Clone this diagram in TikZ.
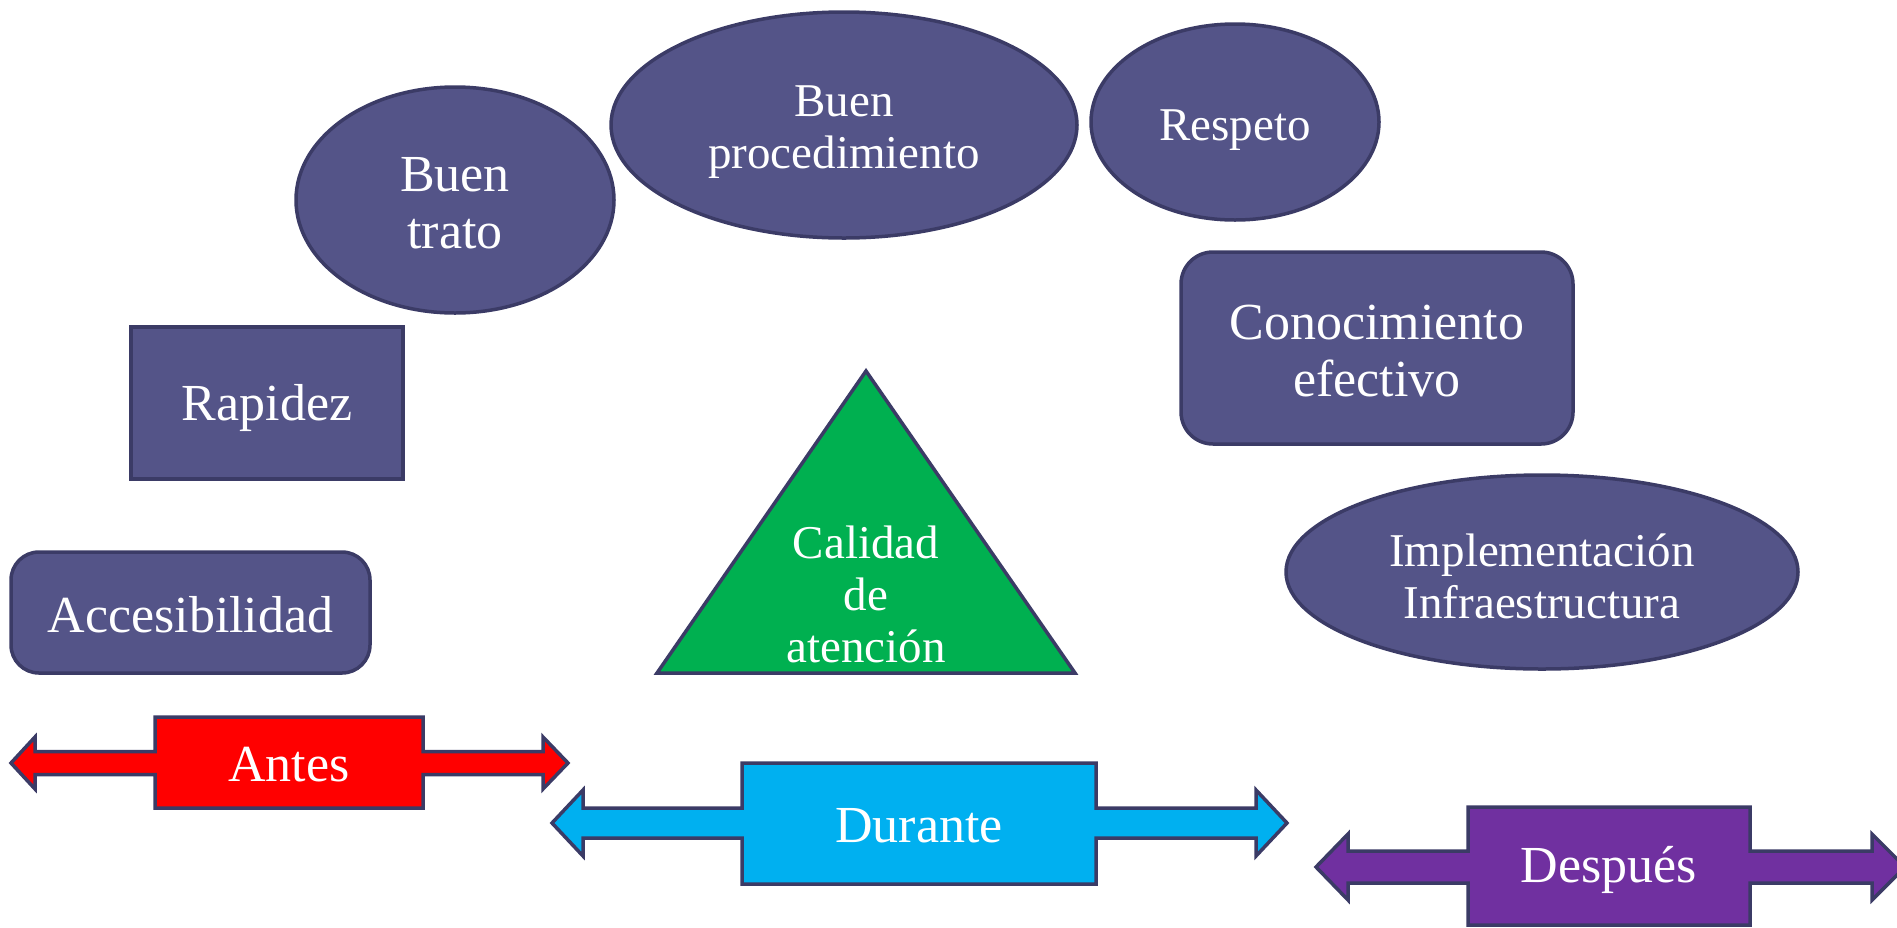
\documentclass[tikz,border=0pt]{standalone}
\usepackage{fontspec}
\setmainfont{Liberation Serif}
\usetikzlibrary{shapes.geometric}
\definecolor{boxfill}{HTML}{545488}
\definecolor{boxline}{HTML}{3B3B66}
\definecolor{trigreen}{HTML}{00B050}
\definecolor{antesred}{HTML}{FF0000}
\definecolor{durcyan}{HTML}{00B0F0}
\definecolor{despurple}{HTML}{7030A0}
\begin{document}
\begin{tikzpicture}[x=1pt,y=-1pt,
  bigtxt/.style={font=\fontsize{52}{57}\selectfont},
  smalltxt/.style={font=\fontsize{47}{52}\selectfont},
  item/.style={draw=boxline, fill=boxfill, line width=3.5pt, inner sep=0pt},
  bubble/.style={item, ellipse},
  plainbox/.style={item, rectangle},
  roundbox/.style={item, rectangle, rounded corners=28pt},
  label/.style={text=white, align=center, inner sep=0pt},
  arrowshape/.style={draw=boxline, line width=3.5pt, line join=miter},
  arrowtxt/.style={bigtxt, text=white, inner sep=0pt}
]
\useasboundingbox (0,0) rectangle (1897,927);
\clip (0,0) rectangle (1897,927);

% top ellipses
\node[bubble, minimum width=318pt, minimum height=226pt] (trato) at (455,200) {};
\node[label, bigtxt] (tratotext) at ([yshift=-3pt]trato.center) {Buen\\trato};
\node[bubble, minimum width=466pt, minimum height=226pt] (proc) at (844,125) {};
\node[label, smalltxt] (proctext) at ([yshift=-7pt]proc.center) {Buen\\procedimiento};
\node[bubble, minimum width=288pt, minimum height=196pt] (respeto) at (1235,122) {};
\node[label, smalltxt] (respetotext) at ([yshift=-8pt]respeto.center) {Respeto};

% boxes
\node[plainbox, minimum width=272pt, minimum height=152pt] (rapidez) at (267,403) {};
\node[label, bigtxt] (rapideztext) at ([yshift=-5pt]rapidez.center) {Rapidez};
\node[roundbox, minimum width=359pt, minimum height=121pt] (acces) at (190.5,612.5) {};
\node[label, bigtxt] (accestext) at ([yshift=-2pt]acces.center) {Accesibilidad};
\node[roundbox, minimum width=392pt, minimum height=192pt, rounded corners=32pt] (conoc) at (1377,348) {};
\node[label, bigtxt] (conoctext) at ([yshift=-3pt]conoc.center) {Conocimiento\\efectivo};
\node[bubble, minimum width=512pt, minimum height=194pt] (implem) at (1542,572) {};
\node[label, smalltxt] (implemtext) at ([yshift=-4pt]implem.center) {Implementación\\Infraestructura};

% triangle
\draw[draw=boxline, fill=trigreen, line width=3.5pt, line join=miter] (866,371) -- (1075,673) -- (657,673) -- cycle;
\node[label, smalltxt] (calidad) at (866,594) {Calidad\\de\\atención};

% Antes arrow
\draw[arrowshape, fill=antesred] (11,763) -- (35,737) -- (35,751.5) -- (155,751.5) -- (155,717) -- (423,717) -- (423,751.5) -- (543,751.5) -- (543,737) -- (568,763) -- (543,789) -- (543,774.5) -- (423,774.5) -- (423,808) -- (155,808) -- (155,774.5) -- (35,774.5) -- (35,789) -- cycle;
\node[arrowtxt] (antes) at (289,765) {Antes};

% Durante arrow
\draw[arrowshape, fill=durcyan] (552,823) -- (583,790) -- (583,808) -- (742,808) -- (742,763) -- (1096,763) -- (1096,808) -- (1256,808) -- (1256,790) -- (1287,823) -- (1256,856) -- (1256,838) -- (1096,838) -- (1096,884) -- (742,884) -- (742,838) -- (583,838) -- (583,856) -- cycle;
\node[arrowtxt] (durante) at (919,826) {Durante};

% Despues arrow
\draw[arrowshape, fill=despurple] (1316,867) -- (1348,834) -- (1348,851) -- (1468,851) -- (1468,807) -- (1750,807) -- (1750,851) -- (1872,851) -- (1872,834) -- (1905,867) -- (1872,900) -- (1872,883) -- (1750,883) -- (1750,925) -- (1468,925) -- (1468,883) -- (1348,883) -- (1348,900) -- cycle;
\node[arrowtxt] (despues) at (1609,870) {Después};
\end{tikzpicture}
\end{document}
